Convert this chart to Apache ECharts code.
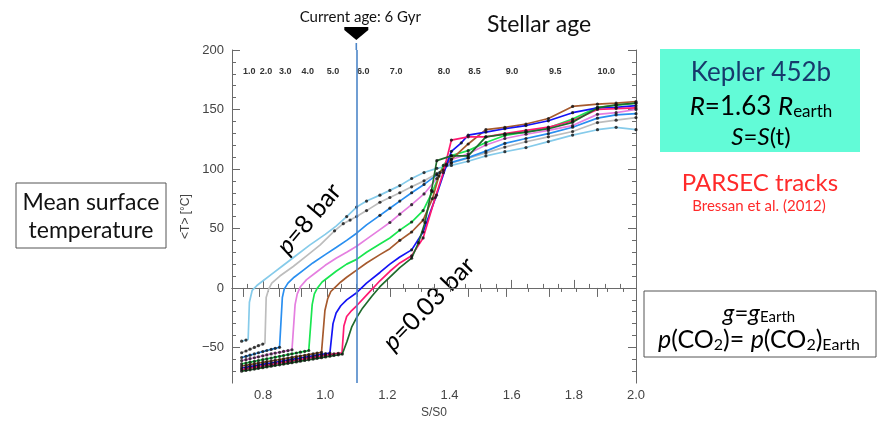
<!DOCTYPE html>
<html>
<head>
<meta charset="utf-8">
<script src="https://cdn.jsdelivr.net/npm/echarts@6/dist/echarts.min.js"></script>
<style>
  html, body { margin: 0; padding: 0; background: #fff; }
  #chart { width: 887px; height: 424px; }
</style>
</head>
<body>
<div id="chart"></div>
<script>
// S/S0 sample points of the cold (snowball) branch, shared by all tracks
const coldS = [0.731, 0.745, 0.758, 0.772, 0.785, 0.799, 0.812, 0.826, 0.839, 0.853, 0.866, 0.880, 0.893,
  0.907, 0.920, 0.934, 0.947, 0.961, 0.974, 0.988, 1.001, 1.015, 1.028, 1.042, 1.055];

// p = 8 bar (light blue)
const lbCold = [-44.8, -43.8];
const lbWarm = [[0.752, -43.2], [0.756, -12], [0.765, -2], [0.78, 2], [0.80, 6], [0.83, 12], [0.86, 18], [0.90, 26],
  [0.95, 36], [1.00, 45], [1.035, 52], [1.069, 60], [1.101, 68], [1.133, 73], [1.176, 78], [1.208, 82], [1.24, 86],
  [1.278, 92], [1.318, 97], [1.359, 100.5], [1.406, 103], [1.46, 106.5], [1.517, 111], [1.578, 114.5], [1.646, 118],
  [1.718, 123], [1.796, 128.5], [1.876, 133], [1.936, 135], [2.0, 133]];

// grey
const grCold = [-54.5, -53, -51.5, -50, -48.5, -47.2];
const grWarm = [[0.806, -46.5], [0.810, -8], [0.818, -1], [0.828, 4], [0.854, 10], [0.897, 18], [0.94, 27], [0.983, 36],
  [1.03, 48], [1.058, 54], [1.08, 57], [1.101, 60], [1.133, 65], [1.176, 72], [1.208, 76], [1.24, 80], [1.278, 85],
  [1.318, 90], [1.359, 96], [1.406, 105], [1.46, 109], [1.517, 113.5], [1.578, 118.4], [1.646, 122.9], [1.718, 127],
  [1.796, 131.5], [1.876, 139], [1.936, 141], [2.0, 143.2]];

// dodger blue
const dbCold = [-58.5, -57.5, -56.5, -55.5, -54.5, -53.5, -52.6, -51.7, -50.8, -49.9];
const dbWarm = [[0.858, -49.5], [0.862, -8], [0.868, -1], [0.88, 4], [0.90, 9], [0.93, 15], [0.96, 21], [1.00, 28],
  [1.035, 34], [1.069, 40], [1.101, 46], [1.133, 53], [1.176, 61], [1.208, 67], [1.24, 73], [1.278, 80], [1.318, 87],
  [1.359, 95], [1.406, 105.5], [1.46, 109.5], [1.517, 115], [1.578, 121.5], [1.646, 125.6], [1.718, 129.7],
  [1.796, 135.1], [1.876, 142.7], [1.936, 145.4], [2.0, 146.5]];

// orchid
const orCold = [-61.1, -60.3, -59.5, -58.7, -57.9, -57.1, -56.3, -55.5, -54.8, -54.1, -53.4, -52.7, -52];
const orWarm = [[0.898, -51.8], [0.903, -14], [0.91, -5], [0.92, 1], [0.94, 7], [0.97, 13], [1.00, 19], [1.035, 25],
  [1.069, 30], [1.101, 35], [1.133, 41], [1.176, 49], [1.208, 55], [1.24, 62], [1.278, 70], [1.318, 79], [1.359, 92],
  [1.38, 99], [1.406, 108], [1.46, 112.7], [1.517, 120.2], [1.578, 125.6], [1.646, 129.2], [1.718, 132.4],
  [1.796, 136.5], [1.876, 145.9], [1.936, 147.3], [2.0, 150]];

// green
const gnCold = [-63.8, -63.1, -62.4, -61.7, -61, -60.3, -59.6, -58.9, -58.2, -57.5, -56.8, -56.1, -55.4, -54.7,
  -54, -53.3, -52.6];
const gnWarm = [[0.953, -52.4], [0.958, -14], [0.965, -5], [0.975, 0], [0.99, 5], [1.01, 9], [1.035, 14], [1.069, 20],
  [1.101, 24], [1.133, 30], [1.176, 37], [1.208, 42], [1.24, 48.6], [1.278, 55.4], [1.315, 65], [1.345, 81],
  [1.366, 94], [1.38, 103], [1.406, 111.3], [1.46, 115.4], [1.517, 122.2], [1.578, 128.1], [1.646, 131],
  [1.718, 134.6], [1.796, 141.9], [1.876, 151.8], [1.936, 153.5], [2.0, 155.4]];

// brown
const brCold = [-65.6, -65, -64.4, -63.8, -63.2, -62.6, -62, -61.4, -60.8, -60.2, -59.6, -59, -58.4, -57.8, -57.2,
  -56.6, -56, -55.4, -54.8, -54.2];
const brWarm = [[0.994, -54], [0.999, -19], [1.008, -9], [1.018, -3], [1.03, 0], [1.05, 5], [1.069, 9], [1.101, 15],
  [1.133, 21], [1.176, 28], [1.208, 33], [1.24, 40], [1.278, 47], [1.315, 57], [1.345, 75], [1.369, 97], [1.39, 104],
  [1.406, 108], [1.46, 121], [1.517, 133], [1.578, 135], [1.646, 137.8], [1.718, 142.4], [1.796, 152.6],
  [1.876, 154.5], [1.936, 155.4], [2.0, 156.7]];

// blue
const blCold = [-67.3, -66.7, -66.1, -65.5, -64.9, -64.3, -63.7, -63.1, -62.5, -61.9, -61.3, -60.7, -60.1, -59.5,
  -58.9, -58.3, -57.7, -57.1, -56.5, -55.9, -55.3, -54.7];
const blWarm = [[1.02, -54.5], [1.025, -30], [1.035, -21], [1.05, -15], [1.069, -10], [1.101, -4], [1.133, 4],
  [1.176, 13], [1.208, 20], [1.24, 26], [1.278, 32], [1.315, 47], [1.358, 78], [1.39, 103], [1.406, 114.8],
  [1.438, 122], [1.46, 128.4], [1.517, 131], [1.578, 133.8], [1.646, 136.5], [1.718, 140.5], [1.796, 147.3],
  [1.876, 151.3], [1.936, 151.8], [2.0, 153.2]];

// pink
const pkCold = [-68.6, -68, -67.4, -66.8, -66.2, -65.6, -65, -64.4, -63.8, -63.2, -62.6, -62, -61.4, -60.8, -60.2,
  -59.6, -59, -58.4, -57.8, -57.2, -56.6, -56, -55.4, -54.9];
const pkWarm = [[1.054, -54.6], [1.06, -32], [1.069, -24], [1.085, -19], [1.101, -15], [1.133, -6], [1.176, 6],
  [1.208, 14], [1.24, 21], [1.278, 27], [1.315, 42], [1.354, 76], [1.38, 97], [1.406, 124.3], [1.46, 127],
  [1.517, 127], [1.578, 129.7], [1.646, 132.4], [1.718, 135.1], [1.796, 140.5], [1.876, 150], [1.936, 150.8],
  [2.0, 151.3]];

// p = 0.03 bar (dark green)
const dgCold = [-70, -69.4, -68.8, -68.2, -67.6, -67, -66.4, -65.8, -65.2, -64.6, -64, -63.4, -62.8, -62.2, -61.6,
  -61, -60.4, -59.8, -59.2, -58.6, -58, -57.4, -56.8, -56.2, -55.6];
const dgWarm = [[1.07, -45], [1.085, -33], [1.101, -25], [1.12, -17], [1.15, -7], [1.176, 1], [1.208, 9], [1.24, 17],
  [1.278, 25], [1.30, 38], [1.321, 55], [1.342, 82], [1.359, 107], [1.406, 111], [1.46, 111], [1.517, 127],
  [1.578, 129.2], [1.646, 131], [1.718, 133.8], [1.796, 139.2], [1.876, 151.3], [1.936, 154], [2.0, 155.4]];

// axis ticks
const sTicks = [0.8, 1.0, 1.2, 1.4, 1.6, 1.8, 2.0];
const sMinor = [0.75, 0.85, 0.9, 0.95, 1.05, 1.1, 1.15, 1.25, 1.3, 1.35, 1.45, 1.5, 1.55, 1.65, 1.7, 1.75, 1.85, 1.9, 1.95];
const ageTickS = [0.735, 0.789, 0.851, 0.924, 1.005, 1.102, 1.208, 1.362, 1.46, 1.581, 1.72, 1.876];
const ageLabels = ['1.0', '2.0', '3.0', '4.0', '5.0', '6.0', '7.0', '8.0', '8.5', '9.0', '9.5', '10.0'];
const ageMinorS = [0.816, 0.902, 0.955, 1.047, 1.154, 1.256, 1.309, 1.401, 1.503, 1.552, 1.653, 1.761, 1.809, 1.906, 1.959];
const tempTicks = [-50, 0, 50, 100, 150, 200];
const tempMinor = [-70, -60, -40, -30, -20, -10, 10, 20, 30, 40, 60, 70, 80, 90, 110, 120, 130, 140, 160, 170, 180, 190];
const currentS = 1.1;

const curves = [
  { color: '#86cbea', cold: lbCold, warm: lbWarm, dotFrom: 1.06 },
  { color: '#bdbdbd', cold: grCold, warm: grWarm, dotFrom: 1.03 },
  { color: '#2a8ff0', cold: dbCold, warm: dbWarm, dotFrom: 1.17 },
  { color: '#e57fe0', cold: orCold, warm: orWarm, dotFrom: 1.2 },
  { color: '#19e650', cold: gnCold, warm: gnWarm, dotFrom: 1.24 },
  { color: '#a65a2e', cold: brCold, warm: brWarm, dotFrom: 1.24 },
  { color: '#1414f5', cold: blCold, warm: blWarm, dotFrom: 1.27 },
  { color: '#ff1a72', cold: pkCold, warm: pkWarm, dotFrom: 1.27 },
  { color: '#1f6b2c', cold: dgCold, warm: dgWarm, dotFrom: 1.27 }
];

const axisColor = '#6a6a6a';
const labelFont = 'Liberation Sans';
const slideFont = 'Lato';

let series = [];
curves.forEach(function (c) {
  let cold = c.cold.map(function (t, i) { return [coldS[i], t]; });
  series.push({
    type: 'line',
    data: cold.concat(c.warm),
    showSymbol: false,
    silent: true,
    lineStyle: { color: c.color, width: 1.7 },
    itemStyle: { color: c.color },
    z: 2
  });
  series.push({
    type: 'scatter',
    data: cold.concat(c.warm.filter(function (p) { return p[0] >= c.dotFrom; })),
    symbolSize: 3.2,
    silent: true,
    itemStyle: { color: '#111' },
    z: 3
  });
});
series[0].markLine = {
  silent: true,
  symbol: 'none',
  label: { show: false },
  lineStyle: { color: '#4d86c8', width: 1.6, type: 'solid' },
  data: [{ xAxis: currentS }]
};

function ageFormatter(v) {
  let best = 0;
  ageTickS.forEach(function (s, i) {
    if (Math.abs(s - v) < Math.abs(ageTickS[best] - v)) best = i;
  });
  return ageLabels[best];
}

let chart = echarts.init(document.getElementById('chart'));
chart.setOption({
  animation: false,
  grid: { left: 232, right: 251, top: 50, bottom: 29 },
  xAxis: [{
    type: 'value', min: 0.7, max: 2.0, position: 'bottom',
    axisLine: { show: true, lineStyle: { color: axisColor } },
    axisTick: { show: true, inside: true, length: 8, customValues: sTicks, lineStyle: { color: axisColor } },
    axisLabel: { customValues: sTicks, formatter: function (v) { return v.toFixed(1); }, color: '#444', fontSize: 13, fontFamily: labelFont, margin: 6 },
    splitLine: { show: false },
    name: 'S/S0', nameLocation: 'middle', nameGap: 19,
    nameTextStyle: { color: '#444', fontSize: 12, fontFamily: labelFont }
  }, {
    type: 'value', min: 0.7, max: 2.0, position: 'bottom',
    axisLine: { show: false },
    axisTick: { show: true, inside: true, length: 4, customValues: sMinor, lineStyle: { color: axisColor } },
    axisLabel: { show: false },
    splitLine: { show: false }
  }, {
    type: 'value', min: 0.7, max: 2.0, position: 'top',
    axisLine: { show: true, lineStyle: { color: axisColor } },
    axisTick: { show: true, inside: true, length: 9, customValues: ageTickS, lineStyle: { color: axisColor } },
    axisLabel: { inside: true, customValues: ageTickS, formatter: ageFormatter, align: 'left', color: '#333', fontSize: 9, fontWeight: 'bold', fontFamily: labelFont, margin: 17 },
    splitLine: { show: false }
  }, {
    type: 'value', min: 0.7, max: 2.0, position: 'top',
    axisLine: { show: false },
    axisTick: { show: true, inside: true, length: 4, customValues: ageMinorS, lineStyle: { color: axisColor } },
    axisLabel: { show: false },
    splitLine: { show: false }
  }],
  yAxis: [{
    type: 'value', min: -80, max: 200, position: 'left',
    axisLine: { show: true, lineStyle: { color: axisColor } },
    axisTick: { show: true, inside: true, length: 8, customValues: tempTicks, lineStyle: { color: axisColor } },
    axisLabel: { customValues: tempTicks, formatter: function (v) { return String(v).replace('-', '\u2212'); }, color: '#444', fontSize: 13, fontFamily: labelFont, margin: 8 },
    splitLine: { show: false },
    name: '<T> [\u00b0C]', nameLocation: 'middle', nameGap: 40, nameRotate: 90,
    nameTextStyle: { color: '#444', fontSize: 12, fontFamily: labelFont }
  }, {
    type: 'value', min: -80, max: 200, position: 'left',
    axisLine: { show: false },
    axisTick: { show: true, inside: true, length: 4, customValues: tempMinor, lineStyle: { color: axisColor } },
    axisLabel: { show: false },
    splitLine: { show: false }
  }, {
    type: 'value', min: -80, max: 200, position: 'right',
    axisLine: { show: true, lineStyle: { color: axisColor } },
    axisTick: { show: true, inside: true, length: 8, customValues: tempTicks, lineStyle: { color: axisColor } },
    axisLabel: { show: false },
    splitLine: { show: false }
  }, {
    type: 'value', min: -80, max: 200, position: 'right',
    axisLine: { show: false },
    axisTick: { show: true, inside: true, length: 4, customValues: tempMinor, lineStyle: { color: axisColor } },
    axisLabel: { show: false },
    splitLine: { show: false }
  }],
  series: series
});

// annotations
let ax = chart.convertToPixel({ xAxisIndex: 0 }, currentS);
const navy = '#173a6c';
chart.setOption({
  graphic: [
    { type: 'line', shape: { x1: ax, y1: 43, x2: ax, y2: 50 }, style: { stroke: '#4d86c8', lineWidth: 1.6 } },
    { type: 'text', style: { text: 'Current age: 6 Gyr', x: ax + 4, y: 17, align: 'center', verticalAlign: 'middle', font: '15px ' + slideFont, fill: '#111' } },
    { type: 'polygon', shape: { points: [[ax - 12, 27], [ax + 12, 27], [ax + 12, 30], [ax, 40], [ax - 12, 30]] }, style: { fill: '#000' } },
    { type: 'text', style: { text: 'Stellar age', x: 487, y: 25, align: 'left', verticalAlign: 'middle', font: '23px ' + slideFont, fill: '#111' } },

    { type: 'rect', shape: { x: 16, y: 183, width: 150, height: 65 }, style: { fill: '#fff', stroke: '#555', lineWidth: 1 } },
    { type: 'text', style: { text: 'Mean surface', x: 91, y: 203, align: 'center', verticalAlign: 'middle', font: '23px ' + slideFont, fill: '#111' } },
    { type: 'text', style: { text: 'temperature', x: 91, y: 231, align: 'center', verticalAlign: 'middle', font: '23px ' + slideFont, fill: '#111' } },

    { type: 'rect', shape: { x: 660, y: 49, width: 200, height: 103 }, style: { fill: '#62fbd7' } },
    { type: 'text', style: { text: 'Kepler 452b', x: 761, y: 73, align: 'center', verticalAlign: 'middle', font: '26px ' + slideFont, fill: navy } },
    { type: 'text', style: { text: '{i|R}{n|=1.63 }{i|R}{s|earth}', x: 761, y: 107, align: 'center', verticalAlign: 'middle',
      rich: { i: { fontStyle: 'italic', fontSize: 26, fontFamily: slideFont, color: navy },
              n: { fontSize: 26, fontFamily: slideFont, color: navy },
              s: { fontSize: 17, fontFamily: slideFont, color: navy, padding: [10, 0, 0, 0] } } } },
    { type: 'text', style: { text: '{i|S}{n|=}{i|S}{n|(t)}', x: 761, y: 137, align: 'center', verticalAlign: 'middle',
      rich: { i: { fontStyle: 'italic', fontSize: 24, fontFamily: slideFont, color: navy },
              n: { fontSize: 24, fontFamily: slideFont, color: navy } } } },

    { type: 'text', style: { text: 'PARSEC tracks', x: 760, y: 183, align: 'center', verticalAlign: 'middle', font: '24px ' + slideFont, fill: '#ff2a2a' } },
    { type: 'text', style: { text: 'Bressan et al. (2012)', x: 759, y: 206, align: 'center', verticalAlign: 'middle', font: '15px ' + slideFont, fill: '#ff2a2a' } },

    { type: 'rect', shape: { x: 644, y: 291, width: 232, height: 66 }, style: { fill: '#fff', stroke: '#555', lineWidth: 1 } },
    { type: 'text', style: { text: '{i|g}{n|=}{i|g}{s|Earth}', x: 759, y: 313, align: 'center', verticalAlign: 'middle',
      rich: { i: { fontStyle: 'italic', fontSize: 24, fontFamily: slideFont, color: '#111' },
              n: { fontSize: 24, fontFamily: slideFont, color: '#111' },
              s: { fontSize: 15, fontFamily: slideFont, color: '#111', padding: [9, 0, 0, 0] } } } },
    { type: 'text', style: { text: '{i|p}{n|(CO}{s|2}{n|)= }{i|p}{n|(CO}{s|2}{n|)}{s|Earth}', x: 759, y: 340, align: 'center', verticalAlign: 'middle',
      rich: { i: { fontStyle: 'italic', fontSize: 25, fontFamily: slideFont, color: '#111' },
              n: { fontSize: 25, fontFamily: slideFont, color: '#111' },
              s: { fontSize: 16, fontFamily: slideFont, color: '#111', padding: [10, 0, 0, 0] } } } },

    { type: 'text', x: 309, y: 219, rotation: 0.87, style: { text: '{i|p}{n|=8 bar}', align: 'center', verticalAlign: 'middle',
      rich: { i: { fontStyle: 'italic', fontSize: 25, fontFamily: slideFont, color: '#111' },
              n: { fontSize: 25, fontFamily: slideFont, color: '#111' } } } },
    { type: 'text', x: 429, y: 304, rotation: 0.8, style: { text: '{i|p}{n|=0.03 bar}', align: 'center', verticalAlign: 'middle',
      rich: { i: { fontStyle: 'italic', fontSize: 25, fontFamily: slideFont, color: '#111' },
              n: { fontSize: 25, fontFamily: slideFont, color: '#111' } } } }
  ]
});
</script>
</body>
</html>
